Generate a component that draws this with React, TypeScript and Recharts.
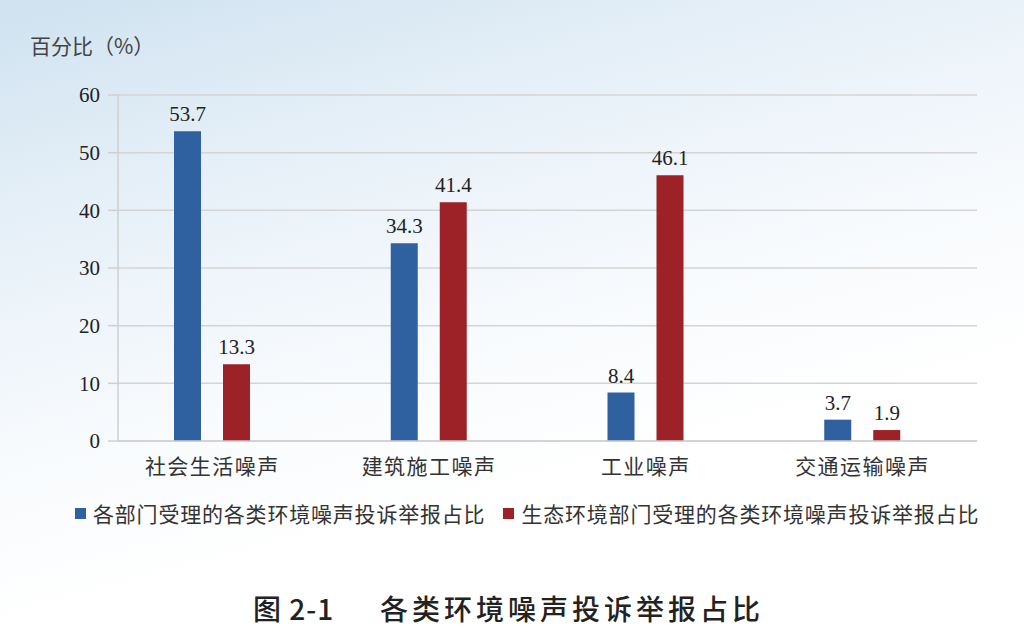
import React from 'react';
import { BarChart, Bar, XAxis, YAxis, CartesianGrid, LabelList } from 'recharts';

const categories = ['社会生活噪声', '建筑施工噪声', '工业噪声', '交通运输噪声'];
const allDepts = [53.7, 34.3, 8.4, 3.7];
const ecoDept = [13.3, 41.4, 46.1, 1.9];
const yTicks = [0, 10, 20, 30, 40, 50, 60];

const seriesNames = ['各部门受理的各类环境噪声投诉举报占比', '生态环境部门受理的各类环境噪声投诉举报占比'];
const colors = ['#2f609f', '#9c2227'];

const data = categories.map((name, i) => ({ name, a: allDepts[i], b: ecoDept[i] }));

const numFont = "'Liberation Serif', 'Times New Roman', serif";
const cjkFont = "'Liberation Serif', 'Noto Sans CJK SC', serif";
const capFont = "'Noto Sans CJK SC', sans-serif";

export default function App() {
  return (
    <div
      style={{
        position: 'absolute',
        left: 0,
        top: 0,
        width: 1024,
        height: 632,
        background: 'linear-gradient(165deg, #cfe2f0 0%, #e6f0f8 25%, #f7fafd 50%, #ffffff 70%)',
        overflow: 'hidden',
      }}
    >
      <div style={{ position: 'absolute', left: 30, top: 30, fontFamily: capFont, fontSize: 21, color: '#444' }}>
        百分比（%）
      </div>
      <BarChart
        width={1024}
        height={632}
        data={data}
        margin={{ top: 95, right: 47, left: 58, bottom: 151 }}
        barSize={27}
        barGap={22}
      >
        <CartesianGrid vertical={false} stroke="#d4d4d4" strokeWidth={1.5} />
        <XAxis
          dataKey="name"
          axisLine={{ stroke: '#cfcfcf', strokeWidth: 1.5 }}
          tickLine={false}
          tickMargin={12}
          padding={{ left: -14, right: 6 }}
          tick={{ fontFamily: capFont, fontSize: 21, fill: '#333', letterSpacing: 1.5 }}
          height={40}
        />
        <YAxis
          width={60}
          domain={[0, 60]}
          ticks={yTicks}
          interval={0}
          axisLine={{ stroke: '#cfcfcf', strokeWidth: 1.5 }}
          tickLine={{ stroke: '#cfcfcf', strokeWidth: 1.5 }}
          tickSize={10}
          tickMargin={8}
          tick={{ fontFamily: numFont, fontSize: 21, fill: '#222' }}
        />
        <Bar dataKey="a" name={seriesNames[0]} fill={colors[0]} isAnimationActive={false}>
          <LabelList dataKey="a" position="top" offset={10} style={{ fontFamily: numFont, fontSize: 21, fill: '#222' }} />
        </Bar>
        <Bar dataKey="b" name={seriesNames[1]} fill={colors[1]} isAnimationActive={false}>
          <LabelList dataKey="b" position="top" offset={10} style={{ fontFamily: numFont, fontSize: 21, fill: '#222' }} />
        </Bar>
      </BarChart>
      <div
        style={{
          position: 'absolute',
          left: 75,
          top: 498,
          display: 'flex',
          alignItems: 'center',
          fontFamily: cjkFont,
          fontSize: 21,
          color: '#333',
          letterSpacing: 0.8,
          whiteSpace: 'nowrap',
        }}
      >
        {seriesNames.map((n, i) => (
          <div key={n} style={{ display: 'flex', alignItems: 'center', marginRight: i === 0 ? 18 : 0 }}>
            <span style={{ width: 11, height: 11, background: colors[i], display: 'inline-block', marginRight: 7 }} />
            <span>{n}</span>
          </div>
        ))}
      </div>
      <div style={{ position: 'absolute', left: 253, top: 588, fontFamily: capFont, fontSize: 28, fontWeight: 500, color: '#222', whiteSpace: 'pre', letterSpacing: 1 }}>
        图 2-1
      </div>
      <div style={{ position: 'absolute', left: 380, top: 588, fontFamily: capFont, fontSize: 28, fontWeight: 500, color: '#222', whiteSpace: 'pre', letterSpacing: 4 }}>
        各类环境噪声投诉举报占比
      </div>
    </div>
  );
}
